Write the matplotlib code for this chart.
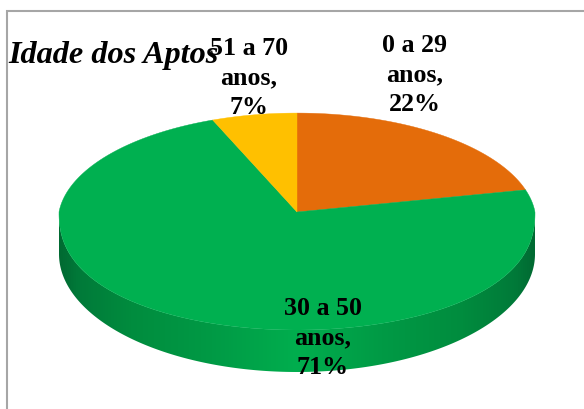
import numpy as np
import matplotlib
matplotlib.use("Agg")
import matplotlib.pyplot as plt
from matplotlib.colors import LinearSegmentedColormap
from matplotlib.patches import Polygon

title = "Idade dos Aptos"
categories = ["0 a 29\nanos,", "30 a 50\nanos,", "51 a 70\nanos,"]
values = [22, 71, 7]
colors = ["#E46C0A", "#00B050", "#FFC000"]
label_pos = [(415, 75), (323, 338), (249, 78)]

CX, CY, RX = 297.0, 212.0, 238.0
B, K, WARP, DEPTH = 107.6, 0.0876, 3.5, 42.0
FRONT = 118.0


def project(theta_deg, p=0.85):
    """Tilted-disc projection, clockwise from 12 o'clock, into pixel space."""
    t = np.asarray(theta_deg, float)
    t = np.radians(t - WARP * np.sin(np.radians(2 * t)))
    u, v = np.sin(t), np.cos(t)
    back = v >= 0
    d = np.where(back, 1 + K * v, 1.0)
    y = np.where(back, B * v / (1 + K * v), -FRONT * np.abs(v) ** p)
    return CX + RX * u / d, CY - y


fig = plt.figure(figsize=(5.84, 4.09), dpi=100, facecolor="white")
ax = fig.add_axes([0, 0, 1, 1])

# side wall: lower half of the rim, extruded downwards, shaded left-right
th = np.linspace(90, 270, 400)
x, y = project(th)
xb, yb = project(th, p=1.0)
wall = Polygon(np.r_[np.c_[x, y], np.c_[xb[::-1], yb[::-1] + DEPTH]], closed=True,
               transform=ax.transData, fc="none", ec="none")
ax.add_patch(wall)
cmap = LinearSegmentedColormap.from_list(
    "wall", [(0, "#006A32"), (0.04, "#007A39"), (0.15, "#008C3E"), (0.32, "#009A45"),
             (0.5, "#00AE4E"), (0.68, "#009A45"), (0.85, "#008C3E"), (0.96, "#007A39"),
             (1, "#006A32")])
img = ax.imshow(np.linspace(0, 1, 480)[None, :], cmap=cmap, aspect="auto",
                extent=(x.min(), x.max(), 380, 200), zorder=1)
img.set_clip_path(wall)

# top face
edges = np.r_[0, np.cumsum(values)] * 3.6
for a, b, c in zip(edges[:-1], edges[1:], colors):
    xs, ys = project(np.linspace(a, b, 400))
    ax.add_patch(Polygon(np.r_[[[CX, CY]], np.c_[xs, ys]], closed=True, fc=c,
                         ec=c, lw=0.3, zorder=2))

serif = ["Liberation Serif", "DejaVu Serif"]
for cat, val, (lx, ly) in zip(categories, values, label_pos):
    ax.text(lx, ly, f"{cat}\n{val}%", ha="center", va="center", family=serif,
            weight="bold", fontsize=18.7, linespacing=1.38, color="black", zorder=5)
ax.text(8, 56, title, ha="left", va="center", family=serif, weight="bold",
        style="italic", fontsize=23.2, color="black", zorder=5)

# chart frame (open at the right and bottom, where the picture is cropped)
ax.plot([7, 7, 584], [409, 11, 11], color="#A6A6A6", lw=1.5, zorder=6,
        solid_joinstyle="miter")

ax.set_xlim(0, 584)
ax.set_ylim(409, 0)
ax.axis("off")
fig.savefig("out.png", dpi=100, facecolor="white")
